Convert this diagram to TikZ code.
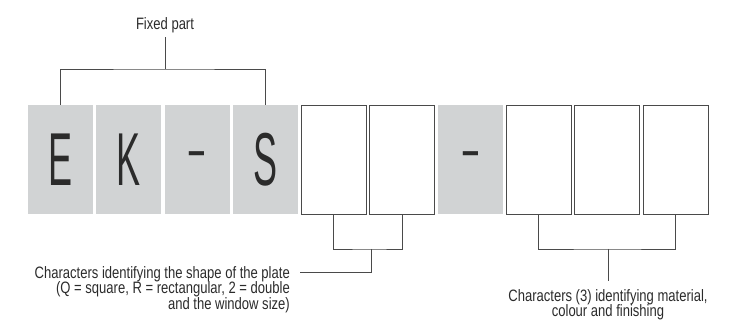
\documentclass[tikz,border=0pt]{standalone}
\usepackage{fontspec}
\setmainfont[FakeStretch=0.79]{Liberation Sans}
\newfontfamily\platefont[FakeStretch=0.48]{Liberation Sans}
\usepackage{xcolor}
\usetikzlibrary{calc, positioning}

\definecolor{platefill}{HTML}{D1D3D4}
\definecolor{bracketgrey}{HTML}{4A4A4A}
\definecolor{textgrey}{HTML}{2B2B2B}

\tikzset{
  charbox/.style={minimum width=65pt, minimum height=109pt, inner sep=0pt,
    font=\platefont\fontsize{75}{75}\selectfont, text=textgrey},
  fixedbox/.style={charbox, fill=platefill},
  dashbox/.style={fixedbox, font=\fontsize{52}{52}\selectfont\addfontfeature{FakeStretch=1.2}},
  freebox/.style={charbox, draw=bracketgrey, line width=0.9pt, fill=white},
  bracket/.style={draw=bracketgrey, line width=0.8pt},
  caption/.style={font=\fontsize{16.5}{15.5}\selectfont, text=textgrey, inner sep=0pt}
}

\begin{document}
\begin{tikzpicture}[x=1pt, y=-1pt]
  % Frame of the picture (pixel units, y pointing down)
  \useasboundingbox (0,0) rectangle (732,320);

  % Ten character positions of the code
  \foreach \i/\ch/\kind in {1/E/fixedbox, 2/K/fixedbox, 3/-/dashbox, 4/S/fixedbox,
      5//freebox, 6//freebox, 7/-/dashbox, 8//freebox, 9//freebox, 10//freebox}
    \node[\kind] (b\i) at ({60.5+68.33*(\i-1)}, 159.5) {\ch};

  % Fixed part bracket above
  \node[caption] (fixed) at (165,25) {Fixed part};
  \coordinate (fx) at (165,69);
  \draw[bracket] (b1.north) |- (fx) -| (b4.north);
  \draw[bracket] (fx) -- ($(fixed.south)+(0,4)$);

  % Shape of the plate bracket
  \coordinate (br1) at (371,249);
  \coordinate (sx) at (300,272);
  \draw[bracket] (b5.south) |- (br1) -| (b6.south);
  \draw[bracket] (br1) |- (sx);
  \node[caption, align=right, anchor=north east] (shape) at (290,266)
    {Characters identifying the shape of the plate\\
     (Q = square, R = rectangular, 2 = double\\
     and the window size)};

  % Material, colour and finishing bracket
  \coordinate (br2) at (608,249);
  \coordinate (mx) at (608,281);
  \draw[bracket] (b8.south) |- (br2) -| (b10.south);
  \draw[bracket] (br2) -- (mx);
  \node[caption, align=center, anchor=north] (material) at (608,289)
    {Characters (3) identifying material,\\colour and finishing};
\end{tikzpicture}
\end{document}
